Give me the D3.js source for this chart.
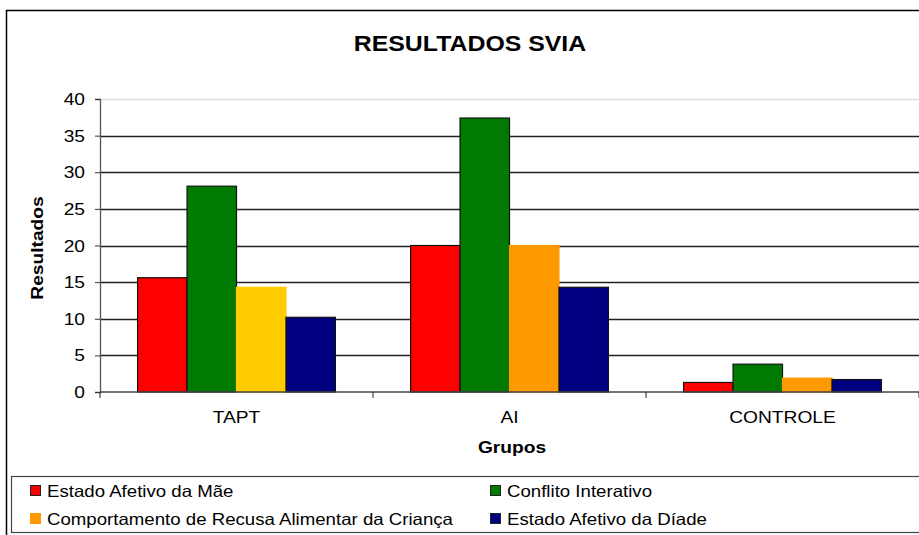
<!DOCTYPE html>
<html>
<head>
<meta charset="utf-8">
<script src="https://cdn.jsdelivr.net/npm/d3@7"></script>
<style>
  body { margin: 0; background: #fff; }
  svg { display: block; font-family: Arial, "Liberation Sans", sans-serif; }
</style>
</head>
<body>
<svg id="chart" width="919" height="535"></svg>
<script>
const groups = ['TAPT', 'AI', 'CONTROLE'];
const seriesNames = [
  'Estado Afetivo da Mãe',
  'Conflito Interativo',
  'Comportamento de Recusa Alimentar da Criança',
  'Estado Afetivo da Díade'
];
const maeValues = [15.6, 20.0, 1.3];
const conflitoValues = [28.1, 37.4, 3.8];
const recusaValues = [14.3, 20.0, 1.9];
const diadeValues = [10.2, 14.3, 1.7];
const yTicks = [0, 5, 10, 15, 20, 25, 30, 35, 40];

const series = [maeValues, conflitoValues, recusaValues, diadeValues];
const colors = ['#ff0000', '#007a00', '#ff9900', '#000080'];
// first group's third bar is drawn in yellow in the original
const barColor = (s, g) => (s === 2 && g === 0) ? '#ffcc00' : colors[s];

const svg = d3.select('#chart');
const margin = {top: 99, bottom: 143, left: 100, right: 0};
const width = 919, height = 535;
const stretch = 1.13; // text in the original is a little wider than Arial

function label(sel, x, y, size, anchor, bold) {
  return sel.append('text')
    .attr('transform', 'translate(' + x + ',' + y + ') scale(' + stretch + ',1)')
    .attr('text-anchor', anchor)
    .attr('font-size', size)
    .attr('font-weight', bold ? 'bold' : 'normal');
}

// outer frame
svg.append('rect')
  .attr('x', 6.5).attr('y', 10.5)
  .attr('width', 930).attr('height', 540)
  .attr('fill', '#fff').attr('stroke', '#000').attr('stroke-width', 1.5);

const x = d3.scaleBand()
  .domain(groups)
  .range([margin.left, width - margin.right]);
const xs = d3.scaleBand()
  .domain(d3.range(series.length))
  .range([0, x.bandwidth()])
  .paddingInner(0)
  .paddingOuter(0.76);
const y = d3.scaleLinear().domain([0, 40]).range([height - margin.bottom, margin.top]);

// gridlines
svg.append('g').selectAll('line')
  .data(yTicks.filter(d => d > 0))
  .enter().append('line')
  .attr('x1', margin.left).attr('x2', width)
  .attr('y1', d => Math.round(y(d)) + 0.5).attr('y2', d => Math.round(y(d)) + 0.5)
  .attr('stroke', d => d === 40 ? '#ddd' : '#222')
  .attr('stroke-width', 1.3);

// bars
const groupG = svg.append('g').selectAll('g')
  .data(groups)
  .enter().append('g')
  .attr('transform', d => 'translate(' + x(d) + ',0)');
groupG.selectAll('rect')
  .data((g, gi) => series.map((s, si) => ({si: si, gi: gi, v: s[gi]})))
  .enter().append('rect')
  .attr('x', d => xs(d.si))
  .attr('width', xs.bandwidth())
  .attr('y', d => y(d.v))
  .attr('height', d => y(0) - y(d.v))
  .attr('fill', d => barColor(d.si, d.gi))
  .attr('stroke', d => d.si === 2 ? barColor(d.si, d.gi) : '#111')
  .attr('stroke-width', 1.2);

// y axis
const yAxis = d3.axisLeft(y).tickValues(yTicks).tickSize(5).tickFormat('');
svg.append('g')
  .attr('transform', 'translate(' + margin.left + ',0)')
  .call(yAxis)
  .call(g => g.select('.domain').attr('stroke', '#555').attr('stroke-width', 1.3))
  .call(g => g.selectAll('.tick line').attr('stroke', '#333'));
svg.append('g').selectAll('text')
  .data(yTicks)
  .enter().each(function(d) {
    label(d3.select(this), 85, y(d) + 6, 17, 'end', false).text(d);
  });

// x axis
const xAxisG = svg.append('g')
  .attr('transform', 'translate(0,' + y(0) + ')');
xAxisG.append('line')
  .attr('x1', margin.left).attr('x2', width)
  .attr('stroke', '#444').attr('stroke-width', 1.3);
xAxisG.selectAll('.tk')
  .data(groups.concat(['end']))
  .enter().append('line')
  .attr('class', 'tk')
  .attr('x1', (d, i) => margin.left + i * x.bandwidth())
  .attr('x2', (d, i) => margin.left + i * x.bandwidth())
  .attr('y1', 0).attr('y2', 6)
  .attr('stroke', '#222');
groups.forEach(d => {
  label(xAxisG, x(d) + x.bandwidth() / 2, 31, 17, 'middle', false).text(d);
});

// titles
label(svg, 470, 51, 22, 'middle', true).text('RESULTADOS SVIA');
label(svg, 512, 453, 17, 'middle', true).text('Grupos');
svg.append('text')
  .attr('transform', 'translate(43,248) rotate(-90) scale(' + stretch + ',1)')
  .attr('text-anchor', 'middle')
  .attr('font-size', 17).attr('font-weight', 'bold')
  .text('Resultados');

// legend
const legend = svg.append('g');
legend.append('rect')
  .attr('x', 11.5).attr('y', 476.5)
  .attr('width', 920).attr('height', 56)
  .attr('fill', '#fff').attr('stroke', '#444').attr('stroke-width', 1.2);
const legendPos = [[30, 491], [490, 491], [30, 519], [490, 519]];
const item = legend.selectAll('g.item')
  .data(seriesNames)
  .enter().append('g')
  .attr('class', 'item')
  .attr('transform', (d, i) => 'translate(' + legendPos[i][0] + ',' + legendPos[i][1] + ')');
item.append('rect')
  .attr('x', 0.5).attr('y', -5.5)
  .attr('width', 10).attr('height', 10)
  .attr('fill', (d, i) => colors[i])
  .attr('stroke', (d, i) => i === 2 ? colors[i] : '#222');
item.each(function(d) {
  label(d3.select(this), 17, 6, 16.5, 'start', false).text(d);
});
</script>
</body>
</html>
